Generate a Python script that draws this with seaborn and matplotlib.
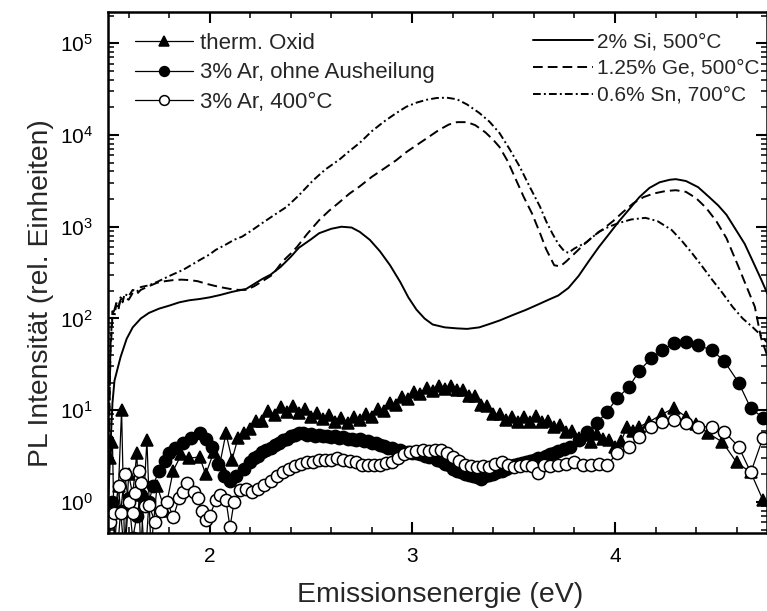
import numpy as np
import matplotlib
matplotlib.use("Agg")
import matplotlib.pyplot as plt
from matplotlib.ticker import MultipleLocator, LogLocator, NullFormatter
import seaborn as sns

# ---- smooth PL spectra (eV, rel. units) ----
si_x = [1.50, 1.51, 1.52, 1.53, 1.56, 1.59, 1.62, 1.66, 1.70, 1.75, 1.80, 1.85, 1.90, 1.95,
        2.00, 2.05, 2.11, 2.18, 2.26, 2.30, 2.35, 2.40, 2.44, 2.50, 2.54, 2.60, 2.65, 2.70,
        2.74, 2.79, 2.84, 2.89, 2.94, 2.98, 3.02, 3.06, 3.10, 3.16, 3.22, 3.27, 3.33, 3.38,
        3.43, 3.50, 3.56, 3.62, 3.68, 3.72, 3.77, 3.82, 3.87, 3.92, 3.97, 4.02, 4.07, 4.12,
        4.17, 4.22, 4.27, 4.30, 4.35, 4.41, 4.46, 4.51, 4.55, 4.60, 4.64, 4.68, 4.72, 4.76]
si_y = [1.2, 4, 12, 21, 38, 60, 80, 100, 115, 128, 138, 150, 158, 163,
        170, 180, 195, 210, 270, 300, 365, 470, 590, 730, 850, 950, 1000, 980,
        880, 720, 540, 380, 250, 170, 125, 100, 86, 80, 78, 77, 80, 87,
        95, 110, 124, 142, 163, 178, 215, 290, 420, 600, 830, 1150, 1550, 2100,
        2650, 3050, 3250, 3300, 3150, 2700, 2150, 1700, 1350, 900, 650, 420, 270, 170]

ge_x = [1.50, 1.51, 1.52, 1.53, 1.54, 1.55, 1.56, 1.58, 1.60, 1.62, 1.64, 1.66, 1.68, 1.70,
        1.74, 1.78, 1.82, 1.86, 1.90, 1.94, 1.98, 2.02, 2.06, 2.10, 2.14, 2.18, 2.22, 2.26,
        2.31, 2.36, 2.40, 2.43, 2.48, 2.54, 2.59, 2.64, 2.69, 2.74, 2.80, 2.86, 2.92, 2.97,
        3.03, 3.08, 3.13, 3.18, 3.22, 3.27, 3.31, 3.36, 3.40, 3.43, 3.47, 3.51, 3.55, 3.59,
        3.63, 3.66, 3.70, 3.73, 3.76, 3.80, 3.84, 3.89, 3.94, 3.99, 4.04, 4.09, 4.14, 4.19,
        4.25, 4.30, 4.35, 4.40, 4.45, 4.50, 4.55, 4.61, 4.65, 4.69, 4.72, 4.75]
ge_y = [2, 40, 110, 125, 150, 135, 160, 170, 160, 190, 185, 205, 215, 225,
        245, 255, 262, 265, 262, 255, 240, 228, 218, 210, 205, 205, 225, 255,
        300, 420, 510, 600, 830, 1180, 1500, 1850, 2300, 2750, 3500, 4300, 5300, 6500,
        8000, 9500, 11300, 13000, 13800, 13800, 12800, 10700, 8800, 7400, 5200, 3300, 2100, 1400,
        850, 570, 380, 370, 420, 510, 620, 780, 940, 1150, 1450, 1800, 2100, 2300,
        2450, 2500, 2400, 2050, 1600, 1150, 750, 363, 220, 134, 62, 40]

sn_x = [1.50, 1.51, 1.52, 1.53, 1.54, 1.55, 1.56, 1.57, 1.58, 1.60, 1.62, 1.64, 1.66, 1.70,
        1.74, 1.80, 1.87, 1.94, 2.00, 2.03, 2.08, 2.12, 2.16, 2.21, 2.26, 2.32, 2.38, 2.44,
        2.51, 2.57, 2.64, 2.69, 2.74, 2.80, 2.86, 2.92, 2.97, 3.02, 3.07, 3.12, 3.17, 3.22,
        3.27, 3.33, 3.38, 3.43, 3.48, 3.53, 3.58, 3.63, 3.66, 3.69, 3.72, 3.75, 3.77, 3.80,
        3.86, 3.92, 3.97, 4.02, 4.08, 4.15, 4.21, 4.28, 4.33, 4.38, 4.43, 4.48, 4.53, 4.58,
        4.63, 4.68, 4.71, 4.75]
sn_y = [2, 50, 120, 105, 150, 125, 170, 150, 185, 175, 205, 195, 220, 230,
        250, 290, 340, 420, 500, 560, 640, 720, 780, 920, 1100, 1350, 1650, 2200,
        3200, 4200, 5400, 6700, 8200, 11000, 14000, 17300, 20300, 22500, 24200, 25300, 25500, 24500,
        21500, 17400, 14000, 10500, 7000, 4500, 2700, 1650, 1150, 850, 650, 540, 520, 580,
        680, 880, 1000, 1100, 1200, 1250, 1150, 920, 700, 515, 370, 263, 190, 134,
        100, 80, 69, 55]

# ---- marker series ----
ox_x = [1.51, 1.52, 1.53, 1.55, 1.565, 1.58, 1.60, 1.62, 1.64, 1.66, 1.69, 1.71, 1.74, 1.78,
        1.82, 1.86, 1.90, 1.95, 1.98, 2.02, 2.05, 2.08, 2.11, 2.14, 2.17, 2.20, 2.23, 2.26,
        2.29, 2.32, 2.35, 2.38, 2.41, 2.44, 2.47, 2.50, 2.53, 2.56, 2.59, 2.62, 2.65, 2.68,
        2.71, 2.74, 2.77, 2.80, 2.83, 2.86, 2.89, 2.92, 2.95, 2.98, 3.01, 3.04, 3.07, 3.10,
        3.13, 3.16, 3.19, 3.22, 3.25, 3.28, 3.31, 3.34, 3.37, 3.40, 3.43, 3.46, 3.49, 3.52,
        3.55, 3.58, 3.61, 3.64, 3.67, 3.70, 3.73, 3.76, 3.79, 3.82, 3.85, 3.88, 3.91, 3.94,
        3.97, 4.00, 4.03, 4.06, 4.09, 4.12, 4.17, 4.23, 4.29, 4.35, 4.40, 4.46, 4.53, 4.60,
        4.67, 4.73]
ox_y = [3, 4.5, 0.3, 1.5, 10, 0.3, 2, 1.2, 3.4, 0.3, 4.7, 0.3, 1.5, 0.8,
        2.2, 3.3, 3.0, 3.1, 2.0, 3.5, 2.6, 5.6, 2.9, 5.0, 5.6, 6.2, 7.6, 7.6,
        9.8, 8.9, 10.8, 9.6, 11.0, 9.4, 10.2, 8.5, 9.4, 8.0, 8.9, 7.4, 8.2, 7.2,
        8.5, 7.8, 9.2, 8.5, 10.2, 9.8, 12.0, 11.4, 14.0, 13.4, 15.8, 15.2, 17.6, 16.4,
        18.5, 17.2, 18.4, 16.5, 16.8, 14.3, 14.2, 11.5, 11.2, 9.2, 9.0, 7.9, 8.4, 7.4,
        8.4, 7.4, 8.6, 7.4, 7.7, 6.6, 6.9, 5.8, 6.0, 5.0, 5.4, 4.5, 5.5, 4.8,
        4.7, 4.0, 4.6, 6.6, 6.0, 6.6, 7.5, 9.0, 10.5, 8.5, 7.0, 5.6, 4.5, 2.7,
        2.1, 1.05]

ar_x = [1.50, 1.52, 1.54, 1.56, 1.58, 1.60, 1.62, 1.64, 1.66, 1.68, 1.70, 1.72, 1.75, 1.78,
        1.80, 1.83, 1.87, 1.91, 1.95, 1.98, 2.01, 2.04, 2.07, 2.10, 2.13, 2.17, 2.20, 2.22,
        2.24, 2.26, 2.28, 2.30, 2.32, 2.34, 2.36, 2.38, 2.40, 2.42, 2.44, 2.46, 2.48, 2.50,
        2.52, 2.54, 2.56, 2.58, 2.60, 2.62, 2.64, 2.66, 2.68, 2.70, 2.72, 2.74, 2.76, 2.78,
        2.80, 2.82, 2.84, 2.86, 2.88, 2.90, 2.92, 2.94, 2.96, 2.98, 3.00, 3.02, 3.04, 3.06,
        3.08, 3.10, 3.12, 3.14, 3.16, 3.18, 3.20, 3.22, 3.24, 3.26, 3.28, 3.30, 3.32, 3.34,
        3.36, 3.38, 3.40, 3.42, 3.44, 3.46, 3.48, 3.50, 3.52, 3.54, 3.56, 3.58, 3.60, 3.62,
        3.64, 3.66, 3.68, 3.70, 3.72, 3.75, 3.78, 3.82, 3.86, 3.91, 3.96, 4.01, 4.07, 4.12,
        4.18, 4.23, 4.29, 4.35, 4.41, 4.48, 4.54, 4.61, 4.67, 4.73]
ar_y = [0.3, 1.0, 0.2, 0.8, 0.25, 1.1, 0.4, 0.7, 1.2, 0.2, 1.0, 1.5, 2.2, 2.8,
        3.4, 3.9, 4.4, 5.0, 5.6, 4.8, 4.0, 2.6, 1.9, 1.7, 1.9, 2.3, 2.7, 3.0,
        3.2, 3.5, 3.7, 3.9, 4.2, 4.4, 4.7, 4.9, 5.2, 5.4, 5.7, 5.6, 5.4, 5.5,
        5.3, 5.4, 5.2, 5.3, 5.1, 5.2, 5.0, 5.1, 4.9, 4.9, 4.7, 4.8, 4.6, 4.6,
        4.4, 4.4, 4.2, 4.1, 3.9, 3.9, 3.7, 3.7, 3.5, 3.5, 3.4, 3.4, 3.3, 3.2,
        3.1, 3.1, 2.9, 2.8, 2.6, 2.5, 2.3, 2.2, 2.1, 2.0, 1.95, 1.9, 1.85, 1.8,
        1.9, 1.95, 2.0, 2.1, 2.2, 2.3, 2.4, 2.5, 2.6, 2.65, 2.75, 2.8, 2.9, 3.0,
        3.05, 3.2, 3.3, 3.45, 3.6, 3.8, 4.0, 4.7, 5.8, 7.2, 9.6, 13.5, 18, 27,
        37, 45, 54, 55, 51, 45, 34, 20, 10.5, 8.3]

ar400_x = [1.51, 1.53, 1.55, 1.56, 1.58, 1.60, 1.62, 1.63, 1.65, 1.66, 1.68, 1.70, 1.73, 1.76,
           1.79, 1.82, 1.85, 1.87, 1.89, 1.92, 1.94, 1.96, 1.98, 2.00, 2.03, 2.05, 2.08, 2.10,
           2.12, 2.15, 2.18, 2.21, 2.24, 2.27, 2.30, 2.33, 2.36, 2.39, 2.42, 2.45, 2.48, 2.51,
           2.54, 2.57, 2.60, 2.63, 2.66, 2.69, 2.72, 2.75, 2.78, 2.81, 2.84, 2.87, 2.90, 2.93,
           2.96, 2.99, 3.02, 3.05, 3.08, 3.11, 3.14, 3.17, 3.20, 3.23, 3.26, 3.29, 3.32, 3.35,
           3.38, 3.41, 3.44, 3.47, 3.50, 3.53, 3.56, 3.59, 3.62, 3.65, 3.68, 3.72, 3.76, 3.80,
           3.84, 3.88, 3.92, 3.96, 4.01, 4.07, 4.12, 4.18, 4.23, 4.29, 4.35, 4.41, 4.48, 4.54,
           4.61, 4.67, 4.73]
ar400_y = [0.6, 0.75, 1.5, 0.76, 2.0, 1.0, 0.76, 1.26, 2.2, 1.6, 0.9, 0.93, 0.6, 0.8,
           1.0, 0.69, 1.1, 1.3, 1.6, 1.3, 1.1, 0.8, 0.64, 0.7, 1.05, 1.2, 1.05, 0.53,
           1.0, 1.35, 1.4, 1.3, 1.4, 1.55, 1.7, 1.9, 2.1, 2.3, 2.45, 2.6, 2.7, 2.75,
           2.85, 2.9, 2.9, 3.0, 2.9, 2.8, 2.7, 2.55, 2.5, 2.5, 2.55, 2.65, 2.75, 3.0,
           3.3, 3.5, 3.6, 3.65, 3.6, 3.65, 3.7, 3.4, 3.1, 2.8, 2.55, 2.45, 2.4, 2.45,
           2.4, 2.6, 2.7, 2.5, 2.4, 2.45, 2.5, 2.45, 2.05, 2.5, 2.45, 2.5, 2.6, 2.7,
           2.55, 2.5, 2.6, 2.5, 3.4, 4.0, 5.1, 6.6, 7.4, 7.8, 7.2, 6.6, 6.6, 5.8,
           4.0, 2.1, 5.0]

sns.set_theme(style="ticks")
plt.rcParams["font.family"] = ["Liberation Sans", "DejaVu Sans"]
plt.rcParams["mathtext.fontset"] = "custom"
plt.rcParams["mathtext.rm"] = "Liberation Sans"
plt.rcParams["mathtext.it"] = "Liberation Sans:italic"

fig = plt.figure(figsize=(7.67, 6.11), dpi=100)
ax = fig.add_axes([108 / 767, 1 - 533 / 611, 1 - 108 / 767, (533 - 12) / 611])

lw = 1.4
sns.lineplot(x=si_x, y=si_y, ax=ax, color="black", lw=lw, linestyle="-",
             estimator=None, sort=False, label="2% Si, 500°C")
sns.lineplot(x=ge_x, y=ge_y, ax=ax, color="black", lw=lw, dashes=(5, 2.6),
             estimator=None, sort=False, label="1.25% Ge, 500°C")
sns.lineplot(x=sn_x, y=sn_y, ax=ax, color="black", lw=lw, dashes=(4, 1.6, 1, 1.6),
             estimator=None, sort=False, label="0.6% Sn, 700°C")

mk = dict(color="black", lw=0.9, markersize=8.8, markeredgecolor="black",
          markeredgewidth=1.1, estimator=None, sort=False)
sns.lineplot(x=ox_x, y=ox_y, ax=ax, marker="^", markerfacecolor="black",
             label="therm. Oxid", **mk)
sns.lineplot(x=ar_x, y=ar_y, ax=ax, marker="o", markerfacecolor="black",
             label="3% Ar, ohne Ausheilung", **mk)
sns.lineplot(x=ar400_x, y=ar400_y, ax=ax, marker="o", markerfacecolor="white",
             label="3% Ar, 400°C", **mk)

ax.set_yscale("log")
ax.set_xlim(1.498, 4.75)
ax.set_ylim(0.459, 2.19e5)

ax.xaxis.set_major_locator(MultipleLocator(1))
ax.xaxis.set_minor_locator(MultipleLocator(0.2))
ax.yaxis.set_major_locator(LogLocator(base=10, numticks=12))
ax.yaxis.set_minor_locator(LogLocator(base=10, subs=np.arange(2, 10), numticks=12))
ax.yaxis.set_minor_formatter(NullFormatter())

for s in ax.spines.values():
    s.set_linewidth(1.8)
    s.set_color("black")
ax.tick_params(which="both", direction="in", top=True, right=True, colors="black")
ax.tick_params(which="major", length=8, width=1.5, labelsize=15)
ax.tick_params(which="minor", length=4, width=1.1)
ax.tick_params(axis="x", which="major", pad=10)
ax.tick_params(axis="y", which="major", pad=11)

ax.set_xlabel("Emissionsenergie (eV)", fontsize=20.5)
ax.set_ylabel("PL Intensität (rel. Einheiten)", fontsize=20.3)
ax.xaxis.set_label_coords(0.504, -0.094)
ax.yaxis.set_label_coords(-0.082, 0.46)

handles, labels = ax.get_legend_handles_labels()
leg_kw = dict(frameon=False, labelspacing=0.38, borderpad=0,
              borderaxespad=0, numpoints=1, markerscale=0.8,
              bbox_transform=fig.transFigure, loc="upper left")
leg1 = ax.legend(handles[3:], labels[3:], bbox_to_anchor=(135 / 767, 1 - 33 / 611),
                 fontsize=16, handlelength=2.6, handletextpad=0.32, **leg_kw)
ax.add_artist(leg1)
ax.legend(handles[:3], labels[:3], bbox_to_anchor=(533 / 767, 1 - 32 / 611),
          fontsize=15, handlelength=2.9, handletextpad=0.15, **leg_kw)

fig.savefig("out.png", dpi=100)
